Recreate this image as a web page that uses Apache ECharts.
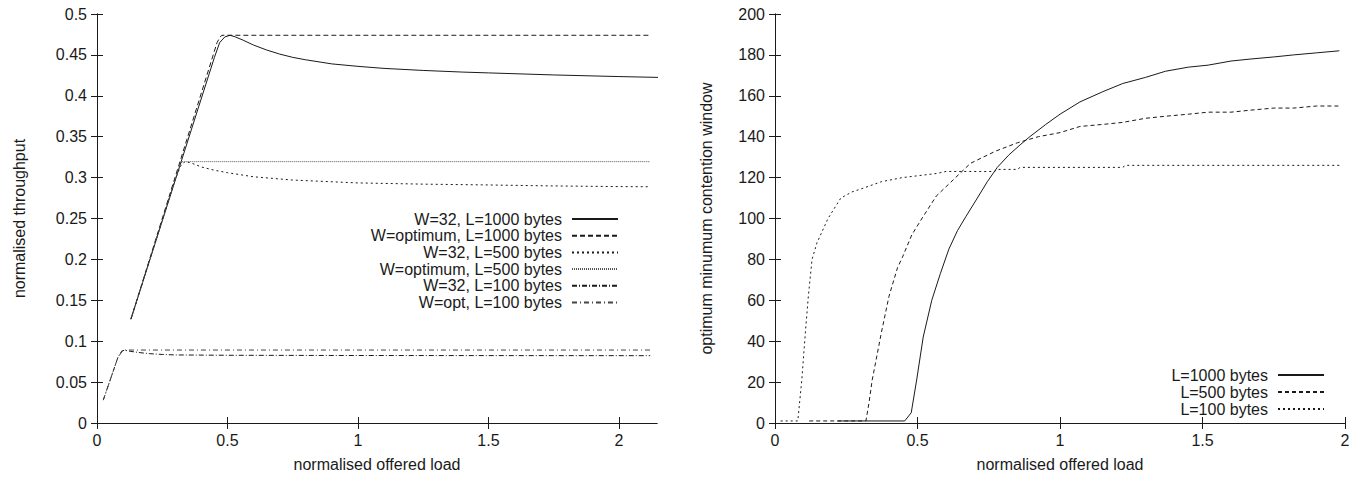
<!DOCTYPE html>
<html>
<head>
<meta charset="utf-8">
<script src="https://cdn.jsdelivr.net/npm/echarts@6/dist/echarts.min.js"></script>
<style>
  html, body { margin: 0; padding: 0; background: #fff; }
  #chart { width: 1364px; height: 478px; }
</style>
</head>
<body>
<div id="chart"></div>
<script>
// ---- Throughput vs offered load (left panel) ----
const thrW32L1000 = [[0.13,0.127],[0.45,0.447],[0.47,0.465],[0.49,0.472],[0.51,0.474],[0.53,0.472],[0.56,0.468],[0.6,0.462],[0.65,0.456],[0.7,0.451],[0.75,0.447],[0.8,0.444],[0.9,0.439],[1.0,0.436],[1.1,0.4335],[1.25,0.431],[1.4,0.429],[1.5,0.428],[1.75,0.4255],[2.0,0.4235],[2.15,0.4225]];
const thrOptL1000 = [[0.13,0.127],[0.46,0.465],[0.47,0.471],[0.478,0.474],[2.12,0.474]];
const thrW32L500 = [[0.13,0.127],[0.3,0.298],[0.32,0.314],[0.337,0.3195],[0.36,0.318],[0.4,0.313],[0.45,0.309],[0.5,0.306],[0.6,0.301],[0.75,0.297],[1.0,0.2935],[1.25,0.292],[1.5,0.291],[1.75,0.2898],[2.0,0.289],[2.12,0.2888]];
const thrOptL500 = [[0.13,0.127],[0.31,0.308],[0.325,0.3195],[2.12,0.3195]];
const thrW32L100 = [[0.024,0.028],[0.08,0.08],[0.095,0.088],[0.105,0.089],[0.13,0.0875],[0.165,0.086],[0.2,0.0848],[0.25,0.0838],[0.3,0.0832],[0.5,0.0828],[1.0,0.0825],[1.5,0.0824],[2.12,0.0823]];
const thrOptL100 = [[0.024,0.028],[0.08,0.08],[0.1,0.0892],[2.12,0.0892]];

// ---- Optimum minimum contention window (right panel) ----
const cwL1000 = [[0.22,1],[0.455,1],[0.478,5],[0.497,21],[0.52,42],[0.55,60],[0.58,73],[0.61,85],[0.64,94],[0.67,101],[0.71,110],[0.745,118],[0.78,125],[0.82,131],[0.86,136],[0.894,140],[0.95,146],[1.0,151],[1.07,157],[1.15,162],[1.22,166],[1.3,169],[1.37,172],[1.45,174],[1.52,175],[1.6,177],[1.67,178],[1.75,179],[1.82,180],[1.9,181],[1.98,182]];
const cwL500 = [[0.12,1],[0.319,1],[0.33,10],[0.341,21],[0.373,44],[0.4,62],[0.43,76],[0.447,81],[0.48,92],[0.52,101],[0.566,111],[0.626,119],[0.686,127],[0.775,133],[0.85,137],[0.924,140],[1.0,142],[1.07,145],[1.15,146],[1.22,147],[1.3,149],[1.37,150],[1.45,151],[1.52,152],[1.6,152],[1.67,153],[1.75,154],[1.82,154],[1.9,155],[1.98,155]];
const cwL100 = [[0.02,1],[0.08,1],[0.094,21],[0.107,45],[0.117,62],[0.13,80],[0.147,88],[0.186,100],[0.231,110],[0.27,113],[0.313,115],[0.373,118],[0.447,120],[0.507,121],[0.566,122],[0.6,123],[0.77,123],[0.78,124],[0.85,124],[0.86,125],[1.22,125],[1.23,126],[1.98,126]];

// ---- Tick labels ----
const loadTicks = [0, 0.5, 1, 1.5, 2];

const FONT = 'Liberation Sans, Arial, Helvetica, sans-serif';
const INK = '#1a1a1a';

const chart = echarts.init(document.getElementById('chart'), null, { renderer: 'svg' });

function xAxisPair(gridIndex, max) {
  const base = {
    type: 'value', gridIndex, min: 0, max,
    splitLine: { show: false },
    axisLine: { lineStyle: { color: INK, width: 1 } },
    axisTick: { inside: true, length: 6, lineStyle: { color: INK }, customValues: loadTicks },
  };
  return [
    Object.assign({}, base, {
      position: 'bottom',
      name: 'normalised offered load', nameLocation: 'middle', nameGap: 33,
      nameTextStyle: { fontFamily: FONT, fontSize: 16, color: INK },
      axisLabel: { customValues: loadTicks, fontFamily: FONT, fontSize: 16, color: INK, margin: 9 },
    }),
    Object.assign({}, base, { position: 'top', axisLabel: { show: false } }),
  ];
}

function yAxisPair(gridIndex, max, interval, name, nameGap) {
  const base = {
    type: 'value', gridIndex, min: 0, max, interval,
    splitLine: { show: false },
    axisLine: { lineStyle: { color: INK, width: 1 } },
    axisTick: { inside: true, length: 6, lineStyle: { color: INK } },
  };
  return [
    Object.assign({}, base, {
      position: 'left', name, nameLocation: 'middle', nameGap,
      nameTextStyle: { fontFamily: FONT, fontSize: 16, color: INK },
      axisLabel: { fontFamily: FONT, fontSize: 16, color: INK, margin: 10 },
    }),
    Object.assign({}, base, { position: 'right', axisLabel: { show: false } }),
  ];
}

function line(name, data, xi, yi, type, color) {
  return {
    name, type: 'line', data, xAxisIndex: xi, yAxisIndex: yi,
    symbol: 'none', showSymbol: false, animation: false,
    lineStyle: { color: color || INK, width: 1, type },
    itemStyle: { color: color || INK },
    emphasis: { disabled: true },
  };
}

function legendEntry(name, right, centerY) {
  return {
    data: [name], right, top: centerY - 9, orient: 'vertical', align: 'right',
    padding: 0, itemWidth: 46, itemHeight: 18, selectedMode: false,
    itemStyle: { opacity: 0 },
    textStyle: { fontFamily: FONT, fontSize: 16, color: INK, padding: [0, 5, 0, 0] },
  };
}

const leftNames = ['W=32, L=1000 bytes', 'W=optimum, L=1000 bytes', 'W=32, L=500 bytes',
  'W=optimum, L=500 bytes', 'W=32, L=100 bytes', 'W=opt, L=100 bytes'];
const rightNames = ['L=1000 bytes', 'L=500 bytes', 'L=100 bytes'];

const legends = [];
leftNames.forEach((n, i) => legends.push(legendEntry(n, 745, 220 + i * 16.7)));
rightNames.forEach((n, i) => legends.push(legendEntry(n, 39, 376 + i * 17)));

chart.setOption({
  backgroundColor: '#fff',
  animation: false,
  grid: [
    { left: 97, right: 707, top: 14, bottom: 55 },
    { left: 775, right: 19, top: 14, bottom: 55 },
  ],
  xAxis: [...xAxisPair(0, 2.146), ...xAxisPair(1, 2)],
  yAxis: [...yAxisPair(0, 0.5, 0.05, 'normalised throughput', 70),
          ...yAxisPair(1, 200, 20, 'optimum minumum contention window', 61)],
  legend: legends,
  series: [
    line(leftNames[0], thrW32L1000, 0, 0, 'solid'),
    line(leftNames[1], thrOptL1000, 0, 0, [5, 3]),
    line(leftNames[2], thrW32L500, 0, 0, [2, 3]),
    line(leftNames[3], thrOptL500, 0, 0, [1, 1], '#555'),
    line(leftNames[4], thrW32L100, 0, 0, [5, 2, 1, 2]),
    line(leftNames[5], thrOptL100, 0, 0, [5, 3, 1, 3], '#444'),
    line(rightNames[0], cwL1000, 2, 2, 'solid'),
    line(rightNames[1], cwL500, 2, 2, [4, 3]),
    line(rightNames[2], cwL100, 2, 2, [2, 3]),
  ],
});
</script>
</body>
</html>
